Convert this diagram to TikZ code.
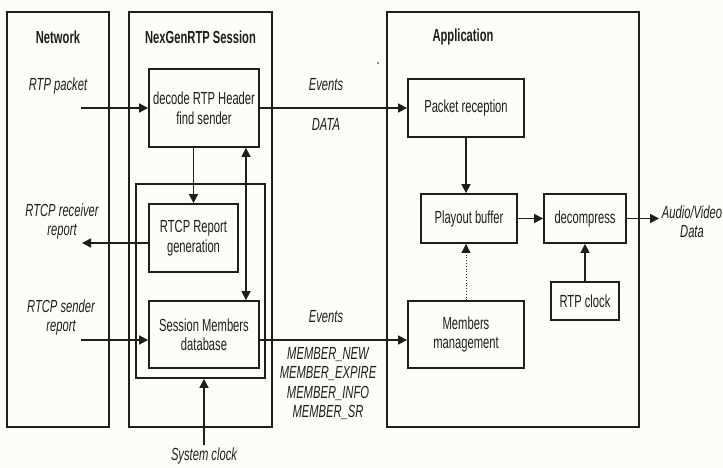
\documentclass[tikz,border=0pt]{standalone}
\usepackage{fontspec}
\setmainfont{Liberation Sans}[FakeStretch=0.64]
\usepackage{tikz}
\usetikzlibrary{arrows.meta, positioning, calc}
\definecolor{paper}{RGB}{253, 253, 248}
\definecolor{ink}{RGB}{30, 30, 30}

\begin{document}
\begin{tikzpicture}[x=1pt, y=-1pt,
    txt/.style={font=\fontsize{17.5}{19.5}\selectfont, text=ink, align=center, inner sep=0pt},
    lbl/.style={txt, font=\fontsize{17.5}{19.5}\selectfont\itshape},
    head/.style={txt, font=\fontsize{17.5}{19.5}\selectfont\bfseries},
    box/.style={txt, draw=ink, line width=1.8pt},
    link/.style={draw=ink, line width=1.6pt, -{Triangle[length=9pt, width=9pt]}}]
  \useasboundingbox[fill=paper] (0,0) rectangle (723,468);

  % the three columns
  \node[box, minimum width=102, minimum height=415] (net) at (58,219.5) {};
  \node[box, minimum width=143, minimum height=415] (sess) at (200.5,219.5) {};
  \node[box, minimum width=252, minimum height=415] (app) at (513,219.5) {};
  \node[head] (nethead) at (58,37) {Network};
  \node[head] (sesshead) at (200.5,37) {NexGenRTP Session};
  \node[head] (apphead) at (463,37) {Application};

  % session blocks
  \node[box, minimum width=110, minimum height=78] (decode) at (204,108)
    {decode RTP Header\\find sender};
  \node[box, minimum width=129, minimum height=194] (inner) at (200.5,281) {};
  \node[box, minimum width=89, minimum height=68] (report) at (193.5,238)
    {RTCP Report\\generation};
  \node[box, minimum width=110, minimum height=67] (members) at (204,334.5)
    {Session Members\\database};

  % application blocks
  \node[box, minimum width=116, minimum height=58] (pktrx) at (466,108) {Packet reception};
  \node[box, minimum width=96, minimum height=49] (playout) at (469,218.5) {Playout buffer};
  \node[box, minimum width=82, minimum height=49] (decomp) at (585,218.5) {decompress};
  \node[box, minimum width=68, minimum height=38] (rtpclk) at (585,301) {RTP clock};
  \node[box, minimum width=116, minimum height=67] (mgmt) at (466,334.5)
    {Members\\management};

  % free ends of the connectors
  \coordinate (rtpin) at (81,108);
  \coordinate (rxout) at (82,243);
  \coordinate (txin) at (81,340);
  \coordinate (dblink) at (246,0);
  \coordinate (sysin) at (204,445);
  \coordinate (avout) at (659,218.5);

  % labels
  \node[lbl] (rtplbl) at (58,86) {RTP packet};
  \node[lbl] (rxlbl) at (62,221.5) {RTCP receiver\\report};
  \node[lbl] (txlbl) at (61,317.5) {RTCP sender\\report};
  \node[lbl] (ev1) at (326,85) {Events};
  \node[lbl] (datalbl) at (326,124) {DATA};
  \node[lbl] (ev2) at (326,317) {Events};
  \node[lbl] (memlist) at (328,383.5)
    {MEMBER\_NEW\\MEMBER\_EXPIRE\\MEMBER\_INFO\\MEMBER\_SR};
  \node[lbl] (avlbl) at (692,221.5) {Audio/Video\\Data};
  \node[lbl] (syslbl) at (204,456) {System clock};
  \fill[ink!50] (377,62) rectangle (379,64);

  % connectors
  \draw[link] (rtpin) -- (decode.west |- rtpin);
  \draw[link] (decode) -- (pktrx);
  \draw[link] (report.north |- decode.south) -- (report.north);
  \draw[link, {Triangle[length=9pt, width=9pt]}-{Triangle[length=9pt, width=9pt]}]
    (decode.south -| dblink) -- (members.north -| dblink);
  \draw[link] (report.west |- rxout) -- (rxout);
  \draw[link] (txin) -- (members.west |- txin);
  \draw[link] (members.east |- txin) -- (mgmt.west |- txin);
  \draw[link] (sysin) -- (inner.south -| sysin);
  \draw[link] (pktrx) -- (pktrx |- playout.north);
  \draw[link] (playout) -- (decomp);
  \draw[link] (decomp) -- (avout);
  \draw[link, line width=0.8pt, dotted, -{Triangle[length=9pt, width=9pt]}]
    (mgmt) -- (mgmt |- playout.south);
  \draw[link] (rtpclk) -- (decomp);
\end{tikzpicture}
\end{document}
